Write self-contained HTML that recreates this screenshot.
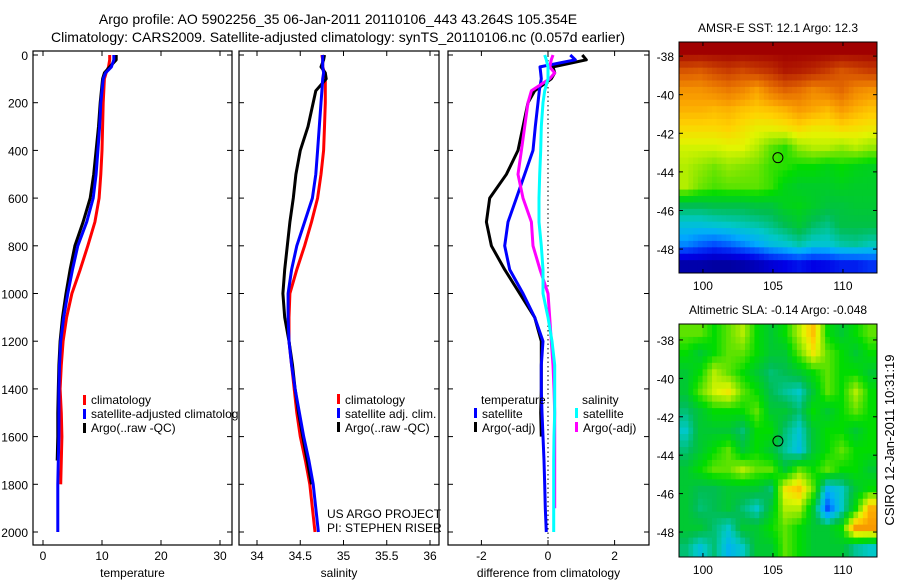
<!DOCTYPE html>
<html><head><meta charset="utf-8">
<style>
html,body{margin:0;padding:0;background:#fff;}
svg{display:block;font-family:"Liberation Sans",sans-serif;}
</style></head>
<body>
<svg id="fig" width="900" height="580" viewBox="0 0 900 580" xmlns="http://www.w3.org/2000/svg">
<text x="338" y="24" font-size="14" text-anchor="middle">Argo profile: AO 5902256_35 06-Jan-2011 20110106_443 43.264S 105.354E</text>
<text x="338" y="42" font-size="14" text-anchor="middle">Climatology: CARS2009. Satellite-adjusted climatology: synTS_20110106.nc (0.057d earlier)</text>
<text transform="translate(894,440) rotate(-90)" font-size="13" text-anchor="middle">CSIRO 12-Jan-2011 10:31:19</text>
<g id="layer"></g>
</svg>
<script>
// ---------- data ----------
const depths = [0,20,50,75,100,150,200,300,400,500,600,700,800,900,1000,1100,1200,1300,1400,1500,1600,1700,1800,1900,2000];
const tempClim = [11.3,11.3,11.1,10.7,10.4,10.3,10.2,10.1,10.0,9.8,9.5,8.8,7.6,6.3,4.9,4.0,3.4,3.1,2.9,3.1,3.2,3.1,3.0,null,null];
const tempSat  = [12.0,12.0,11.6,10.6,10.2,10.0,9.8,9.6,9.3,9.0,8.5,7.4,5.9,5.0,4.2,3.5,3.0,2.8,2.7,2.7,2.7,2.6,2.5,2.5,2.5];
const tempArgo = [12.4,12.4,11.3,10.4,10.1,9.9,9.7,9.4,9.0,8.6,8.0,6.8,5.4,4.6,3.9,3.3,2.9,2.7,2.6,2.5,2.5,2.4,null,null,null];
const salClim = [34.75,34.76,34.76,34.78,34.79,34.79,34.79,34.78,34.77,34.74,34.70,34.63,34.55,34.46,34.38,34.37,34.37,34.40,34.43,34.46,34.50,34.56,34.61,34.64,34.67];
const salSat  = [34.76,34.76,34.76,34.77,34.76,34.75,34.74,34.72,34.70,34.68,34.64,34.55,34.46,34.40,34.36,34.36,34.37,34.40,34.44,34.49,34.54,34.60,34.65,34.68,34.71];
const salArgo = [34.78,34.77,34.74,34.79,34.80,34.68,34.65,34.59,34.50,34.45,34.42,34.38,34.35,34.32,34.30,34.32,34.37,34.41,34.44,34.48,34.53,34.58,34.63,null,null];
const dTempSat  = [0.67,0.82,-0.24,-0.22,-0.2,-0.26,-0.3,-0.38,-0.45,-0.7,-0.95,-1.2,-1.3,-1.15,-0.75,-0.4,-0.15,-0.2,-0.2,-0.18,-0.15,-0.12,-0.1,-0.08,-0.05];
const dTempArgo = [1.03,1.15,0.15,0.2,0.1,-0.4,-0.6,-0.75,-0.9,-1.25,-1.75,-1.85,-1.7,-1.3,-0.85,-0.4,-0.2,-0.2,-0.2,-0.22,-0.2,null,null,null,null];
const dSalSat   = [-0.1,-0.05,0,0,0,-0.1,-0.15,-0.2,-0.22,-0.25,-0.27,-0.27,-0.2,-0.15,-0.15,0,0.12,0.2,0.2,0.2,0.18,0.17,0.17,0.17,0.17];
const dSalArgo  = [0.15,0.1,0.05,0.2,0.05,-0.5,-0.6,-0.7,-0.8,-0.9,-0.75,-0.5,-0.45,-0.24,0,0.05,0.1,0.15,0.18,0.2,0.2,0.2,0.2,0.2,null];
const depthTicks = [0,200,400,600,800,1000,1200,1400,1600,1800,2000];
const tempTicks = [0,10,20,30];
const salTicks = [34,34.5,35,35.5,36];
const salTickLabels = ["34","34.5","35","35.5","36"];
const diffTicks = [-2,0,2];
const lonTicks = [100,105,110];
const latTicks = [-38,-40,-42,-44,-46,-48];
const argoLon = 105.354, argoLat = -43.264;
const sstGrid = [
[1.0,1.0,1.0,1.0,1.0,1.0,1.0,1.0,1.0,1.0,1.0,1.0,1.0,1.0],
[0.86,0.85,0.88,0.9,0.88,0.9,0.92,0.96,0.95,0.93,0.9,0.86,0.88,0.9],
[0.76,0.76,0.78,0.8,0.78,0.74,0.8,0.84,0.82,0.78,0.8,0.83,0.78,0.76],
[0.72,0.72,0.71,0.72,0.7,0.69,0.7,0.72,0.75,0.73,0.71,0.75,0.72,0.7],
[0.67,0.67,0.67,0.68,0.66,0.64,0.64,0.65,0.67,0.65,0.65,0.67,0.66,0.65],
[0.62,0.62,0.62,0.63,0.63,0.6,0.55,0.52,0.58,0.6,0.6,0.58,0.6,0.58],
[0.6,0.58,0.56,0.58,0.57,0.56,0.53,0.52,0.5,0.5,0.48,0.5,0.48,0.47],
[0.6,0.56,0.54,0.55,0.55,0.55,0.53,0.48,0.46,0.46,0.46,0.47,0.46,0.46],
[0.42,0.42,0.43,0.43,0.43,0.44,0.44,0.47,0.48,0.46,0.44,0.44,0.45,0.45],
[0.33,0.33,0.34,0.35,0.36,0.37,0.39,0.42,0.45,0.41,0.39,0.43,0.43,0.43],
[0.25,0.22,0.2,0.22,0.25,0.28,0.32,0.34,0.37,0.34,0.34,0.37,0.38,0.36],
[0.05,0.05,0.04,0.04,0.05,0.07,0.1,0.12,0.14,0.12,0.13,0.15,0.15,0.17]
];
const slaGrid = [
[.55,.55,.5,.55,.6,.5,.45,.5,.6,.7,.5,.45,.5,.55],
[.5,.45,.5,.55,.55,.5,.45,.45,.55,.65,.55,.5,.45,.5],
[.45,.5,.6,.55,.5,.45,.4,.42,.45,.5,.55,.5,.5,.45],
[.45,.55,.62,.65,.55,.5,.42,.38,.35,.45,.55,.5,.6,.5],
[.4,.45,.5,.5,.5,.55,.45,.45,.4,.5,.45,.5,.55,.5],
[.35,.45,.45,.45,.4,.5,.5,.4,.34,.45,.5,.5,.45,.5],
[.4,.45,.5,.55,.45,.5,.45,.38,.32,.45,.5,.55,.5,.5],
[.45,.5,.55,.55,.6,.55,.55,.45,.55,.5,.55,.5,.5,.45],
[.45,.42,.42,.45,.45,.45,.4,.65,.7,.55,.3,.35,.45,.5],
[.45,.4,.42,.45,.4,.35,.45,.6,.6,.45,.2,.35,.5,.72],
[.45,.45,.4,.35,.45,.45,.5,.55,.5,.45,.45,.5,.75,.75],
[.4,.33,.4,.3,.35,.45,.45,.55,.5,.45,.45,.45,.38,.35]
];

// ---------- helpers ----------
const NS="http://www.w3.org/2000/svg";
const layer=document.getElementById('layer');
function mk(tag,attrs,parent){const e=document.createElementNS(NS,tag);for(const k in attrs)e.setAttribute(k,attrs[k]);(parent||layer).appendChild(e);return e;}
function txt(x,y,s,size,anchor,parent){const t=mk('text',{x:x,y:y,'font-size':size,'text-anchor':anchor||'middle'},parent);t.textContent=s;return t;}
const Y0=55, PX200=47.7, TOP=51, BOT=545;
const yD=d=>Y0+d/200*PX200;

function panel(name,L,R,xmap,ticks,labels,xlabel,leftLabels){
  const g=mk('g',{});
  
  
  const f=mk('rect',{x:L,y:TOP,width:R-L,height:BOT-TOP,fill:'none',stroke:'#000','stroke-width':1.2},g);
  
  
  depthTicks.forEach(d=>{
    const y=yD(d);
    mk('line',{x1:L,y1:y,x2:L+5,y2:y,stroke:'#000'},g);
    mk('line',{x1:R-5,y1:y,x2:R,y2:y,stroke:'#000'},g);
    if(leftLabels){const t=txt(28,y+5,String(d),12,'end',g);
      
      }
  });
  ticks.forEach((v,i)=>{
    const x=xmap(v);
    mk('line',{x1:x,y1:TOP,x2:x,y2:TOP+5,stroke:'#000'},g);
    mk('line',{x1:x,y1:BOT-5,x2:x,y2:BOT,stroke:'#000'},g);
    const t=txt(x,BOT+15,labels[i],12,'middle',g);
    
    
  });
  const xl=txt((L+R)/2,BOT+32,xlabel,12,'middle',g);
  
  
  return g;
}
function series(vals,xmap,color,name,L,R){
  let d='',pen=false;
  vals.forEach((v,i)=>{ if(v===null){pen=false;return;} d+=(pen?'L':'M')+xmap(v).toFixed(1)+','+yD(depths[i]).toFixed(1); pen=true;});
  const cid='clip-'+name;
  const cp=mk('clipPath',{id:cid});mk('rect',{x:L,y:TOP,width:R-L,height:BOT-TOP},cp);
  const p=mk('path',{d:d,fill:'none',stroke:color,'stroke-width':3,'stroke-linejoin':'round','clip-path':'url(#'+cid+')'});
  
  
}
function legendEntry(x,y,color,label,name){
  const g=mk('g',{});
  
  
  mk('rect',{x:x,y:y-10,width:3,height:10,fill:color},g);
  txt(x+8,y,label,12,'start',g);
}

// ---------- temperature panel ----------
const xT=v=>43+5.9*v;
panel('temperature-panel',33,232,xT,tempTicks,tempTicks.map(String),'temperature',true);
series(tempClim,xT,'#f00','temp-climatology-line',33,232);
series(tempArgo,xT,'#000','temp-argo-line',33,232);
series(tempSat,xT,'#00f','temp-satellite-line',33,232);
const lc1=mk('clipPath',{id:'lc1'});mk('rect',{x:33,y:TOP,width:205,height:500},lc1);
const lg1=mk('g',{'clip-path':'url(#lc1)'});


[['#f00','climatology'],['#00f','satellite-adjusted climatology'],['#000','Argo(..raw -QC)']].forEach((e,i)=>{
  const g=mk('g',{},lg1);
  
  
  mk('rect',{x:83,y:395+i*14,width:3,height:10,fill:e[0]},g);
  txt(91,404+i*14,e[1],12,'start',g);
});

// ---------- salinity panel ----------
const xS=v=>257+86.5*(v-34);
panel('salinity-panel',239,439,xS,salTicks,salTickLabels,'salinity',false);
series(salClim,xS,'#f00','sal-climatology-line',239,439);
series(salArgo,xS,'#000','sal-argo-line',239,439);
series(salSat,xS,'#00f','sal-satellite-line',239,439);
legendEntry(337,404,'#f00','climatology','legend-entry');
legendEntry(337,418,'#00f','satellite adj. clim.','legend-entry');
legendEntry(337,432,'#000','Argo(..raw -QC)','legend-entry');
const c1=txt(327,518,'US ARGO PROJECT',12,'start');


const c2=txt(327,532,'PI: STEPHEN RISER',12,'start');



// ---------- difference panel ----------
const xDf=v=>548+33.3*v;
panel('difference-panel',448,649,xDf,diffTicks,diffTicks.map(String),'difference from climatology',false);
const zl=mk('line',{x1:xDf(0),y1:TOP,x2:xDf(0),y2:BOT,stroke:'#000','stroke-dasharray':'1.5,3'});


series(dTempArgo,xDf,'#000','diff-temp-argo-line',448,649);
series(dTempSat,xDf,'#00f','diff-temp-satellite-line',448,649);
series(dSalArgo,xDf,'#f0f','diff-sal-argo-line',448,649);
series(dSalSat,xDf,'#0ff','diff-sal-satellite-line',448,649);
const h1=txt(481,404,'temperature',12,'start');


const h2=txt(582,404,'salinity',12,'start');


legendEntry(474,418,'#00f','satellite','legend-entry');
legendEntry(474,432,'#000','Argo(-adj)','legend-entry');
legendEntry(575,418,'#0ff','satellite','legend-entry');
legendEntry(575,432,'#f0f','Argo(-adj)','legend-entry');

// ---------- maps ----------
const cmapStops=[[0,[0,0,128]],[0.12,[0,0,230]],[0.2,[0,80,255]],[0.28,[0,170,255]],[0.35,[0,200,200]],[0.42,[0,190,80]],[0.5,[0,220,0]],[0.57,[130,230,0]],[0.63,[225,245,0]],[0.68,[255,210,0]],[0.74,[250,160,0]],[0.82,[230,110,0]],[0.9,[200,60,0]],[1,[160,0,0]]];
function cmap(v){
  v=Math.max(0,Math.min(1,v));
  for(let i=1;i<cmapStops.length;i++){
    const [a,ca]=cmapStops[i-1],[b,cb]=cmapStops[i];
    if(v<=b){const t=(v-a)/(b-a);return 'rgb('+ca.map((c,k)=>Math.round(c+(cb[k]-c)*t)).join(',')+')';}
  }
  return 'rgb(160,0,0)';
}
function sample(grid,fi,fj){
  const rows=grid.length,cols=grid[0].length;
  const i0=Math.max(0,Math.min(rows-1,Math.floor(fi))),j0=Math.max(0,Math.min(cols-1,Math.floor(fj)));
  const i1=Math.min(rows-1,i0+1),j1=Math.min(cols-1,j0+1);
  const ti=Math.max(0,Math.min(1,fi-i0)),tj=Math.max(0,Math.min(1,fj-j0));
  return (grid[i0][j0]*(1-tj)+grid[i0][j1]*tj)*(1-ti)+(grid[i1][j0]*(1-tj)+grid[i1][j1]*tj)*ti;
}
function map(name,grid,T,B,latTop,latBot,title){
  const L=679,R=877,lonL=98.29,lonR=112.43;
  const g=mk('g',{});
  
  
  const rows=grid.length, cols=grid[0].length, up=3;
  const xL=lon=>L+(lon-lonL)/(lonR-lonL)*(R-L);
  const yL=lat=>T+(lat-latTop)/(latBot-latTop)*(B-T);
  const cw=(R-L)/(cols*up), ch=(B-T)/(rows*up);
  for(let i=0;i<rows*up;i++)for(let j=0;j<cols*up;j++){
    const v=sample(grid,(i+0.5)/up-0.5,(j+0.5)/up-0.5);
    const c=mk('rect',{x:(L+j*cw).toFixed(2),y:(T+i*ch).toFixed(2),width:(cw+0.5).toFixed(2),height:(ch+0.5).toFixed(2),fill:cmap(v)},g);
    
    
  }
  mk('rect',{x:L,y:T,width:R-L,height:B-T,fill:'none',stroke:'#000','stroke-width':1},g);
  lonTicks.forEach(lon=>{const x=xL(lon);
    mk('line',{x1:x,y1:T,x2:x,y2:T+4,stroke:'#000'},g);
    mk('line',{x1:x,y1:B-4,x2:x,y2:B,stroke:'#000'},g);
    const t=txt(x,B+17,String(lon),12,'middle',g);
    
    });
  latTicks.forEach(lat=>{const y=yL(lat);
    mk('line',{x1:L,y1:y,x2:L+4,y2:y,stroke:'#000'},g);
    mk('line',{x1:R-4,y1:y,x2:R,y2:y,stroke:'#000'},g);
    const t=txt(L-5,y+5,String(lat),12,'end',g);
    
    });
  const m=mk('circle',{cx:xL(argoLon),cy:yL(argoLat),r:5,fill:'none',stroke:'#000','stroke-width':1},g);
  
  
  const tt=txt((L+R)/2,T-10,title,12,'middle',g);
  
  
}
map('sst-map',sstGrid,42,273,-37.27,-49.24,'AMSR-E SST: 12.1 Argo: 12.3');
map('sla-map',slaGrid,324,557,-37.17,-49.3,'Altimetric SLA: -0.14 Argo: -0.048');
</script>
</body></html>
